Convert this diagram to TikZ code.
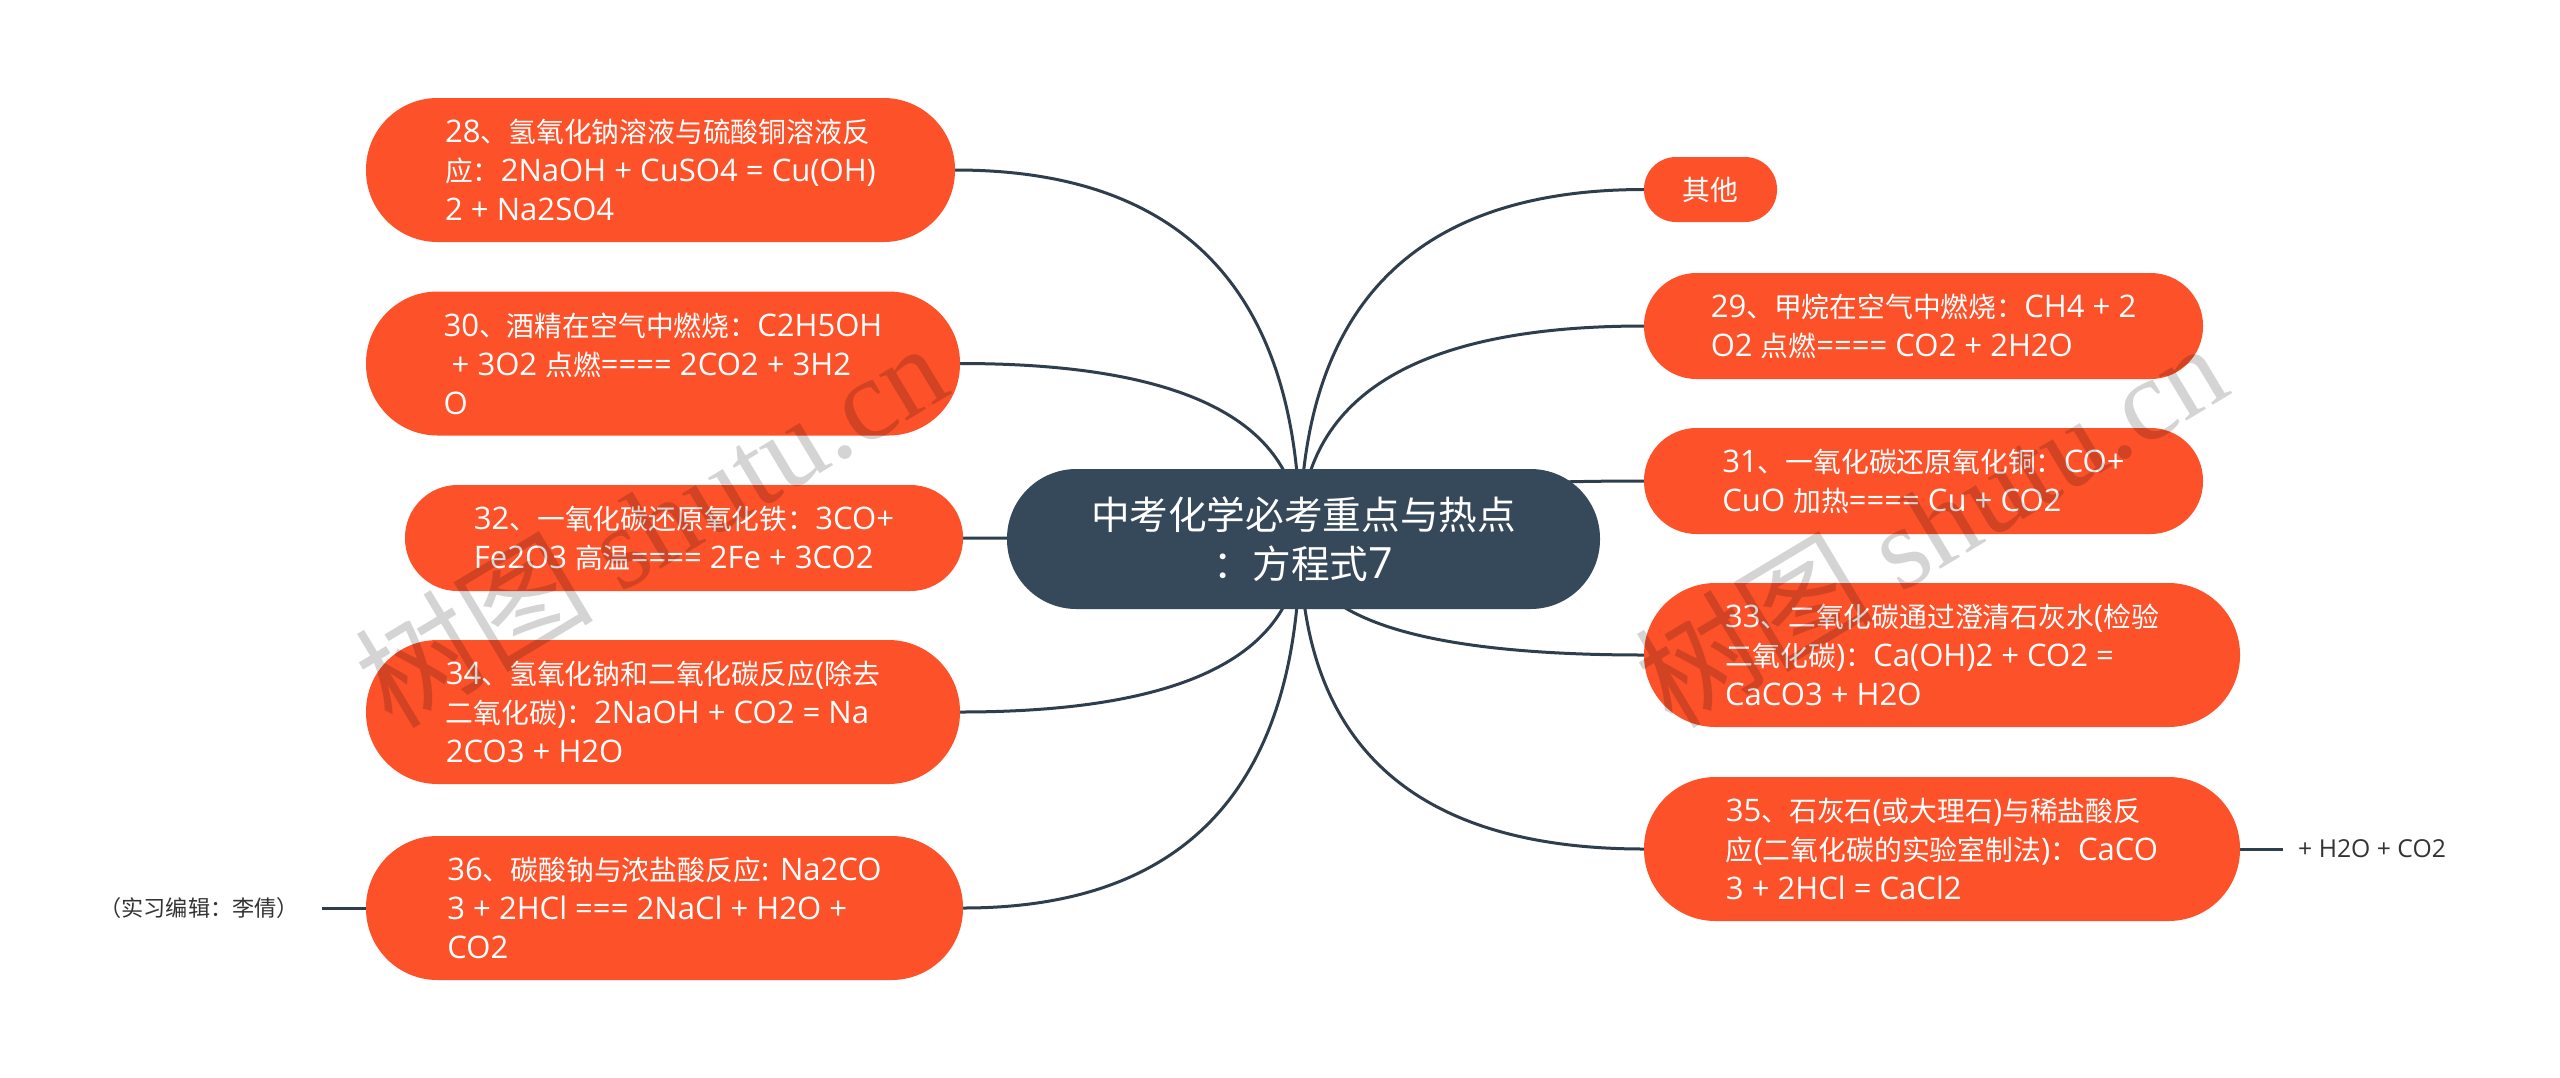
\documentclass[tikz,border=0pt]{standalone}
\usepackage{fontspec}
\setmainfont{Open Sans}[Scale=1.15]
\newfontfamily\latinfont{Open Sans}[Scale=1.15]
\newfontfamily\cjkfont{Noto Sans CJK SC}[Scale=1.03]
\newfontfamily\wmlatin{Liberation Serif}
\XeTeXinterchartokenstate=1
\newXeTeXintercharclass\CJKcls
\newcount\cjkn
\def\cjkrange#1#2{\cjkn=#1\relax\loop\XeTeXcharclass\cjkn=\CJKcls\ifnum\cjkn<#2\advance\cjkn by 1\repeat}
\cjkrange{"3000}{"303F}
\cjkrange{"4E00}{"9FFF}
\cjkrange{"FF00}{"FFEF}
\XeTeXinterchartoks 0 \CJKcls = {\cjkfont}
\XeTeXinterchartoks 4095 \CJKcls = {\cjkfont}
\XeTeXinterchartoks \CJKcls 0 = {\latinfont}
\usetikzlibrary{calc,backgrounds}
\definecolor{leafc}{RGB}{252,81,41}
\definecolor{rootc}{RGB}{54,73,90}
\definecolor{linec}{RGB}{47,62,76}
\definecolor{labc}{RGB}{51,51,51}
\newcommand\mmedge[2]{\draw[edge] (#1) .. controls ($(#1)!0.6667!(#1 |- #2)$) and ($(#2)!0.6667!(#1 |- #2)$) .. (#2);}
\begin{document}
\begin{tikzpicture}[x=1pt,y=-1pt,
  leaf/.style={fill=leafc,text=white,inner sep=0pt,align=left,font=\fontsize{27}{39}\selectfont},
  tall/.style={minimum height=144pt,rounded corners=71.5pt},
  short/.style={minimum height=106pt,rounded corners=52.5pt},
  rootbox/.style={fill=rootc,text=white,inner sep=0pt,align=center,font=\fontsize{37.5}{49}\selectfont,minimum width=593pt,minimum height=140pt,rounded corners=69.5pt},
  lbl/.style={text=labc,inner ysep=0pt,font=\fontsize{21.5}{26}\selectfont},
  edge/.style={draw=linec,line width=3pt},
  wm/.style={text=black,text opacity=0.17,rotate=31,inner sep=0pt,font=\fontsize{116}{120}\selectfont}
]
\useasboundingbox (0,0) rectangle (2560,1077);

% root
\node[rootbox] (root) at (1303.5,539) {中考化学必考重点与热点\\：方程式7};
\coordinate (rc) at (1300,539);

% left branch
\node[leaf,tall,minimum width=589pt] (n28) at (660.5,170) {28、氢氧化钠溶液与硫酸铜溶液反\\应：2NaOH + CuSO4 = Cu(OH)\\2 + Na2SO4};
\node[leaf,tall,minimum width=594pt] (n30) at (663,363.5) {30、酒精在空气中燃烧：C2H5OH\\\ + 3O2 点燃==== 2CO2 + 3H2\\O};
\node[leaf,short,minimum width=558pt] (n32) at (684,538) {32、一氧化碳还原氧化铁：3CO+\\Fe2O3 高温==== 2Fe + 3CO2};
\node[leaf,tall,minimum width=594pt] (n34) at (663,712) {34、氢氧化钠和二氧化碳反应(除去\\二氧化碳)：2NaOH + CO2 = Na\\2CO3 + H2O};
\node[leaf,tall,minimum width=597pt] (n36) at (664.5,908) {36、碳酸钠与浓盐酸反应: Na2CO\\3 + 2HCl === 2NaCl + H2O +\\CO2};
\node[lbl,anchor=east,inner xsep=23pt] (ed) at (322,908) {（实习编辑：李倩）};

% right branch
\node[leaf,minimum width=133pt,minimum height=65pt,rounded corners=32pt] (qt) at (1710.5,189.5) {其他};
\node[leaf,short,minimum width=559pt] (n29) at (1923.5,326) {29、甲烷在空气中燃烧：CH4 + 2\\O2 点燃==== CO2 + 2H2O};
\node[leaf,short,minimum width=559pt] (n31) at (1923.5,481) {31、一氧化碳还原氧化铜：CO+\\CuO 加热==== Cu + CO2};
\node[leaf,tall,minimum width=596pt] (n33) at (1942,655) {33、二氧化碳通过澄清石灰水(检验\\二氧化碳)：Ca(OH)2 + CO2 =\\CaCO3 + H2O};
\node[leaf,tall,minimum width=596pt] (n35) at (1942,849) {35、石灰石(或大理石)与稀盐酸反\\应(二氧化碳的实验室制法)：CaCO\\3 + 2HCl = CaCl2};
\node[lbl,anchor=west,inner xsep=15pt] (h2o) at (2283,849) {+ H2O + CO2};

\begin{pgfonlayer}{background}
\fill[white] (0,0) rectangle (2560,1077);
\mmedge{rc}{n28.east}
\mmedge{rc}{n30.east}
\mmedge{rc}{n32.east}
\mmedge{rc}{n34.east}
\mmedge{rc}{n36.east}
\mmedge{rc}{qt.west}
\mmedge{rc}{n29.west}
\mmedge{rc}{n31.west}
\mmedge{rc}{n33.west}
\mmedge{rc}{n35.west}
\draw[edge] (n36.west) -- (ed.east);
\draw[edge] (n35.east) -- (h2o.west);
\end{pgfonlayer}

% watermarks
\node[wm] (wm1) at (650,523) {树图 {\wmlatin shutu.cn}};
\node[wm] (wm2) at (1930,523) {树图 {\wmlatin shutu.cn}};
\end{tikzpicture}
\end{document}
